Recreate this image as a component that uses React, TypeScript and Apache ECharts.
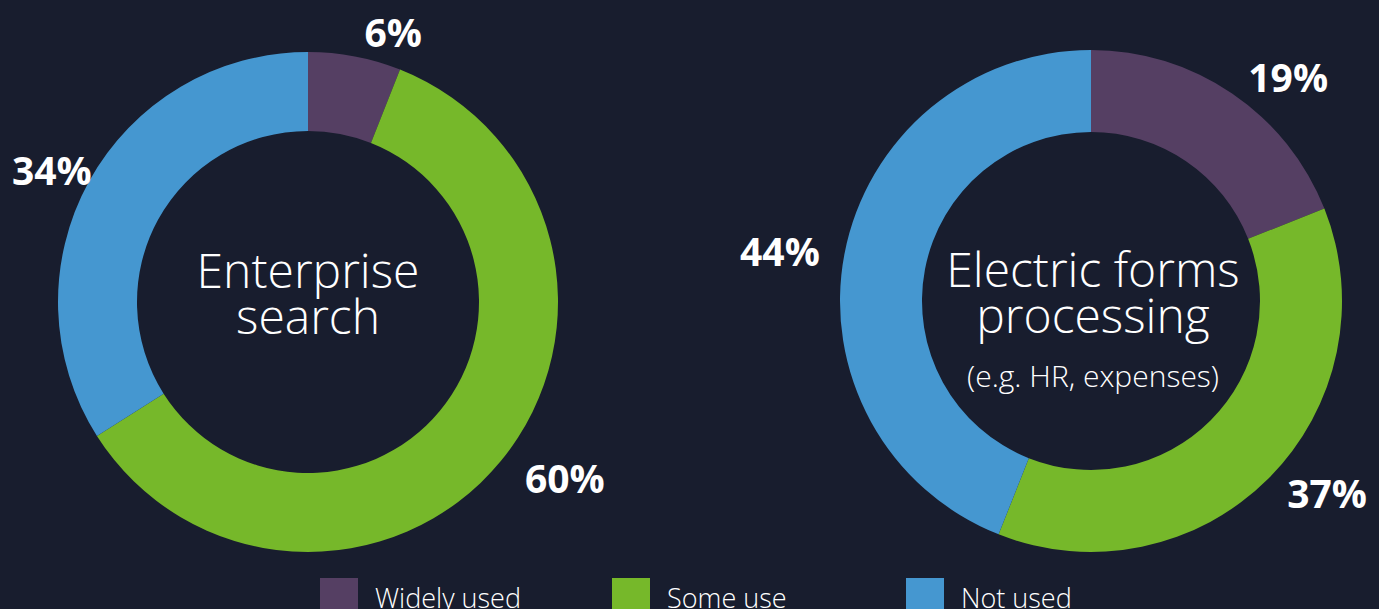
import React, { useEffect, useRef } from "react";
import * as echarts from "echarts";

const categories = ["Widely used", "Some use", "Not used"];
const enterpriseSearch = [6, 60, 34];
const electricForms = [19, 37, 44];
const colors = ["#553f63", "#76b82a", "#4597d0"];
const bg = "#181d2e";
const leftTitle = "Enterprise\nsearch";
const rightTitle = "Electric forms\nprocessing";
const rightSubtitle = "(e.g. HR, expenses)";
const legendLefts = [320, 612, 906];

const FONT = "'Open Sans', 'Noto Sans', sans-serif";
const CHART_W = 1379;
const EDGE = 12;

function pieSeries(
  name: string,
  values: number[],
  center: number[],
  radius: number[],
  lineLen: number
) {
  return {
    type: "pie",
    name,
    center,
    radius,
    startAngle: 90,
    clockwise: true,
    silent: true,
    avoidLabelOverlap: false,
    itemStyle: { borderWidth: 0 },
    label: {
      show: true,
      position: "outside",
      formatter: "{c}%",
      color: "#ffffff",
      fontSize: 39,
      fontWeight: "bold",
      fontFamily: FONT,
      distanceToLabelLine: 5,
    },
    labelLine: { show: false, length: lineLen, length2: 0 },
    labelLayout: (p: any) => {
      const r = p.labelRect;
      const left = Math.min(Math.max(r.x, EDGE), CHART_W - EDGE - r.width);
      return {
        x: left,
        y: r.y + r.height / 2,
        align: "left",
        verticalAlign: "middle",
      };
    },
    emphasis: { disabled: true },
    data: values.map((v, i) => ({
      value: v,
      name: categories[i],
      itemStyle: { color: colors[i] },
    })),
  };
}

export default function App() {
  const ref = useRef<HTMLDivElement>(null);
  useEffect(() => {
    if (!ref.current) return;
    const chart = echarts.init(ref.current, undefined, { renderer: "svg" });
    const lightText = (text: string, x: number, y: number, size: number, lh: number) => ({
      type: "text",
      x,
      y,
      silent: true,
      style: {
        text,
        fill: "#ffffff",
        fontSize: size,
        lineHeight: lh,
        fontWeight: 300,
        fontFamily: FONT,
        align: "center",
        verticalAlign: "middle",
      },
    });
    chart.setOption({
      animation: false,
      backgroundColor: bg,
      legend: categories.map((c, i) => ({
        show: true,
        data: [c],
        left: legendLefts[i],
        top: 578,
        icon: "rect",
        itemWidth: 38,
        itemHeight: 38,
        selectedMode: false,
        padding: 0,
        textStyle: {
          color: "#ffffff",
          fontSize: 27,
          fontWeight: 300,
          fontFamily: FONT,
          padding: [0, 0, 0, 12],
        },
      })),
      series: [
        pieSeries("Enterprise search", enterpriseSearch, [308, 302], [171, 250], 25),
        pieSeries("Electric forms processing", electricForms, [1091, 301], [169, 251], 20),
      ],
      graphic: [
        lightText(leftTitle, 308, 292, 48, 46),
        lightText(rightTitle, 1093, 291, 48, 46),
        lightText(rightSubtitle, 1093, 375, 30, 34),
      ],
    });
    return () => chart.dispose();
  }, []);
  return (
    <div
      ref={ref}
      style={{ position: "fixed", left: 0, top: 0, width: 1379, height: 609 }}
    />
  );
}
